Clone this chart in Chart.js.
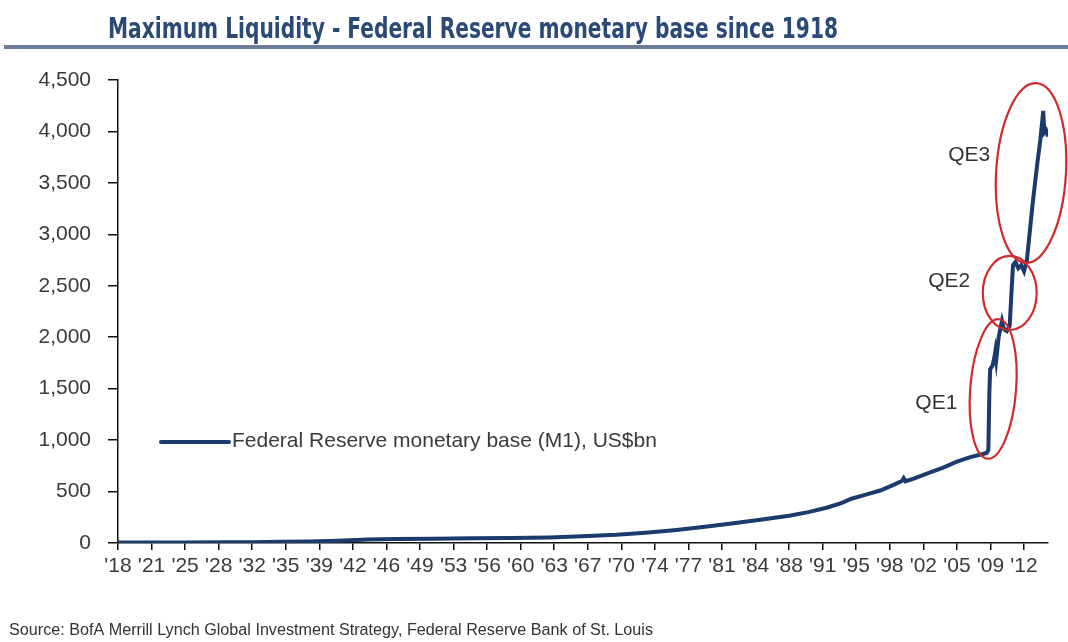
<!DOCTYPE html>
<html>
<head>
<meta charset="utf-8">
<title>Federal Reserve monetary base</title>
<script src="https://cdn.jsdelivr.net/npm/chart.js@4.4.1/dist/chart.umd.min.js"></script>
<style>
  html, body { margin: 0; padding: 0; background: #fff; }
  canvas { display: block; }
</style>
</head>
<body>
<canvas id="baseChart" width="1068" height="642"></canvas>
<script>
// monetary base, US$bn, by (fractional) year
const years = [
  1918, 1921, 1925, 1929, 1932, 1935, 1938, 1941, 1944, 1947, 1951, 1955, 1959, 1963, 1967,
  1970, 1973, 1976, 1979, 1982, 1985, 1988, 1990, 1992, 1993.5, 1994.5, 1996, 1997.5, 1999,
  1999.8, 1999.95, 2000.15, 2001, 2002.5, 2004, 2005.5, 2006.9, 2008.0, 2008.6, 2008.78,
  2008.88, 2008.97, 2009.2, 2009.4, 2009.5, 2009.6, 2009.85, 2010.2, 2010.4, 2010.7, 2011.0,
  2011.2, 2011.35, 2011.6, 2011.9, 2012.2, 2012.5, 2012.8, 2013.4, 2013.9, 2014.2, 2014.4,
  2014.5, 2014.62, 2014.8, 2015.0
];
const baseValues = [
  5, 6, 6, 7, 8, 11, 15, 22, 33, 40, 42, 46, 48, 54, 67,
  80, 100, 125, 155, 190, 225, 265, 300, 345, 390, 430, 470, 510, 570,
  605, 630, 600, 625, 680, 730, 790, 835, 860, 875, 905,
  1450, 1690, 1720, 1800, 1860, 1780, 2000, 2160, 2080, 2060, 2110,
  2450, 2700, 2730, 2670, 2700, 2640, 2750, 3300, 3700, 3920, 4100,
  4200, 3990, 4010, 3950
];

const xTickYears = [
  1918, 1921.5, 1925, 1928.5, 1932, 1935.5, 1939, 1942.5, 1946, 1949.5, 1953, 1956.5, 1960, 1963.5,
  1967, 1970.5, 1974, 1977.5, 1981, 1984.5, 1988, 1991.5, 1995, 1998.5, 2002, 2005.5, 2009, 2012.5
];
const xTickLabels = [
  "'18", "'21", "'25", "'28", "'32", "'35", "'39", "'42", "'46", "'49", "'53", "'56", "'60", "'63",
  "'67", "'70", "'74", "'77", "'81", "'84", "'88", "'91", "'95", "'98", "'02", "'05", "'09", "'12"
];

const seriesName = 'Federal Reserve monetary base (M1), US$bn';
const chartTitle = 'Maximum Liquidity - Federal Reserve monetary base since 1918';
const sourceNote = 'Source: BofA Merrill Lynch Global Investment Strategy, Federal Reserve Bank of St. Louis';

// QE rings: centre (year, value), half-width in years, half-height in US$bn, tilt
const qeRings = [
  { label: 'QE1', year: 2009.28, value: 1497, ry: 2.39, rv: 680, tilt: 0.08, textYear: 2003.35, textValue: 1361 },
  { label: 'QE2', year: 2011.01, value: 2430, ry: 2.81, rv: 360, tilt: 0.0, textYear: 2004.7, textValue: 2546 },
  { label: 'QE3', year: 2013.23, value: 3596, ry: 3.64, rv: 875, tilt: 0.06, textYear: 2006.78, textValue: 3771 }
];

const FONT = '"Liberation Sans", Arial, sans-serif';
const NAVY = '#1b3a6d';

// draw text squeezed or stretched to a given width
function fitText(ctx, text, x, y, width) {
  const w = ctx.measureText(text).width;
  ctx.save();
  ctx.translate(x, y);
  ctx.scale(width / w, 1);
  ctx.fillText(text, 0, 0);
  ctx.restore();
}

const decor = {
  id: 'decor',
  beforeDraw(chart) {
    const ctx = chart.ctx;
    ctx.save();
    ctx.fillStyle = '#fff';
    ctx.fillRect(0, 0, chart.width, chart.height);
    ctx.restore();
  },
  afterDraw(chart) {
    const ctx = chart.ctx;
    const xs = chart.scales.x, ys = chart.scales.y;
    const area = chart.chartArea;
    ctx.save();

    // title + rule
    ctx.fillStyle = '#2c4a78';
    ctx.font = 'bold 29px "DejaVu Sans Condensed", "Liberation Sans", sans-serif';
    ctx.textBaseline = 'alphabetic';
    ctx.textAlign = 'left';
    fitText(ctx, chartTitle, 108, 38, 730);
    ctx.fillStyle = '#6b7c99';
    ctx.fillRect(4, 45, chart.width - 4, 4);

    // legend
    const ly = area.top + 362;
    ctx.strokeStyle = NAVY;
    ctx.lineWidth = 4;
    ctx.lineCap = 'round';
    ctx.beginPath();
    ctx.moveTo(area.left + 43, ly);
    ctx.lineTo(area.left + 111, ly);
    ctx.stroke();
    ctx.fillStyle = '#3a3a3a';
    ctx.font = '21px ' + FONT;
    ctx.textBaseline = 'middle';
    ctx.fillText(chart.data.datasets[0].label, area.left + 114, ly - 1);

    // QE rings and labels
    qeRings.forEach(r => {
      const cx = xs.getPixelForValue(r.year);
      const cy = ys.getPixelForValue(r.value);
      const rx = Math.abs(xs.getPixelForValue(r.year + r.ry) - cx);
      const ry = Math.abs(ys.getPixelForValue(r.value + r.rv) - cy);
      ctx.strokeStyle = '#cf2b2e';
      ctx.lineWidth = 2.2;
      ctx.beginPath();
      ctx.ellipse(cx, cy, rx, ry, r.tilt, 0, Math.PI * 2);
      ctx.stroke();
      ctx.fillStyle = '#333';
      ctx.textAlign = 'center';
      ctx.fillText(r.label, xs.getPixelForValue(r.textYear), ys.getPixelForValue(r.textValue));
    });

    // source line
    ctx.textAlign = 'left';
    ctx.fillStyle = '#333';
    ctx.font = '16px ' + FONT;
    fitText(ctx, sourceNote, 9, 631, 644);
    ctx.restore();
  }
};

new Chart(document.getElementById('baseChart'), {
  type: 'line',
  data: {
    datasets: [{
      label: seriesName,
      data: years.map((y, i) => ({ x: y, y: baseValues[i] })),
      borderColor: NAVY,
      borderWidth: 4,
      pointRadius: 0,
      tension: 0,
      fill: false
    }]
  },
  options: {
    responsive: false,
    animation: false,
    devicePixelRatio: 1,
    layout: { padding: { top: 80, right: 20, bottom: 43, left: 0 } },
    plugins: { legend: { display: false }, tooltip: { enabled: false }, title: { display: false } },
    scales: {
      x: {
        type: 'linear',
        min: 1918,
        max: 2015,
        afterBuildTicks: s => { s.ticks = xTickYears.map(v => ({ value: v })); },
        afterFit: s => { s.height = 56; },
        grid: { drawOnChartArea: false, drawTicks: true, tickLength: 7, color: '#111', lineWidth: 1.5 },
        border: { display: true, color: '#111', width: 1.5 },
        ticks: {
          autoSkip: false, maxRotation: 0, minRotation: 0, padding: 4,
          color: '#3a3a3a', font: { family: FONT, size: 21 },
          callback: (v, i) => xTickLabels[i]
        }
      },
      y: {
        min: 0,
        max: 4500,
        afterFit: s => { s.width = 118; },
        grid: { drawOnChartArea: false, drawTicks: true, tickLength: 10, color: '#111', lineWidth: 1.5 },
        border: { display: true, color: '#111', width: 1.5 },
        ticks: {
          stepSize: 500, padding: 17,
          color: '#3a3a3a', font: { family: FONT, size: 21 },
          callback: v => v.toLocaleString('en-US')
        }
      }
    }
  },
  plugins: [decor]
});
</script>
</body>
</html>
